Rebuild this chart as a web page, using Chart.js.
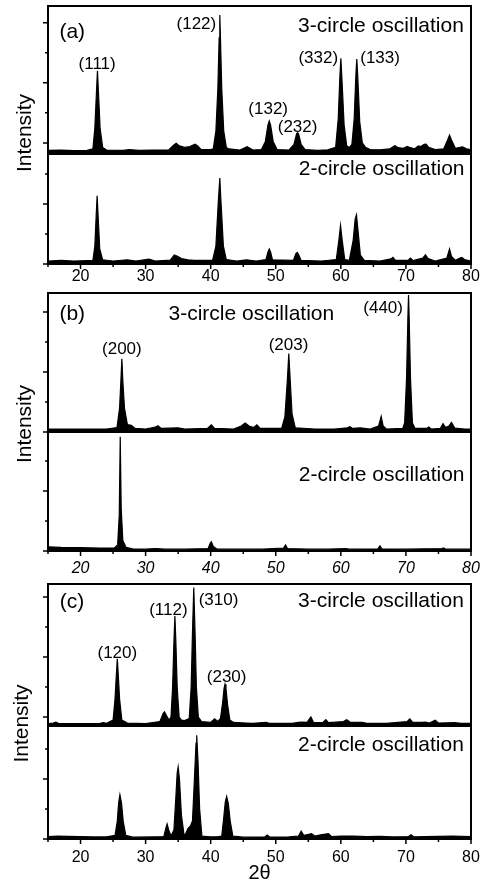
<!DOCTYPE html>
<html>
<head>
<meta charset="utf-8">
<script src="https://cdn.jsdelivr.net/npm/chart.js@4.4.1/dist/chart.umd.min.js"></script>
<style>
  body { margin: 0; background: #fff; width: 484px; height: 891px; position: relative; overflow: hidden; }
  canvas { position: absolute; left: 0; }
</style>
</head>
<body>
<canvas id="chartA" width="484" height="290" style="top:0px"></canvas>
<canvas id="chartB" width="484" height="290" style="top:290px"></canvas>
<canvas id="chartC" width="484" height="311" style="top:580px"></canvas>
<script>
// 2theta / intensity pairs (arbitrary units, one tick = 1)
// panel (a), 3-circle
const aTopX = [15, 17, 19, 21.0, 21.9, 22.2, 22.45, 22.6, 22.75, 23.0, 23.4, 24.0, 26.5, 27.5, 29.0, 31.0, 33.5, 34.3, 34.7, 35.2, 36.0, 36.8, 37.6, 38.0, 38.5, 40.0, 40.4, 40.8, 41.1, 41.3, 41.4, 41.5, 41.7, 42.0, 42.4, 42.8, 44.5, 45.6, 46.5, 47.8, 48.4, 48.8, 49.0, 49.2, 49.6, 50.2, 52.0, 52.8, 53.2, 53.35, 53.5, 53.9, 54.5, 56.5, 58.0, 59.2, 59.6, 59.85, 60.0, 60.15, 60.5, 60.9, 61.3, 61.7, 62.05, 62.3, 62.45, 62.6, 62.9, 63.3, 63.8, 64.5, 66.0, 67.5, 68.3, 68.8, 69.6, 70.2, 70.7, 71.3, 71.9, 72.3, 72.8, 73.1, 73.5, 74.5, 75.8, 76.4, 76.7, 77.0, 77.6, 78.3, 78.7, 79.3, 80];
const aTopY = [-0.25, -0.24, -0.26, -0.25, -0.2, 0.5, 1.7, 2.4, 1.7, 0.5, -0.15, -0.24, -0.25, -0.22, -0.25, -0.24, -0.24, -0.08, -0.01, -0.1, -0.15, -0.12, -0.04, -0.1, -0.22, -0.22, -0.2, 0.4, 1.8, 3.5, 4.26, 3.5, 1.8, 0.4, -0.15, -0.2, -0.24, -0.13, -0.24, -0.22, 0.05, 0.6, 0.73, 0.6, 0.05, -0.22, -0.24, -0.05, 0.3, 0.34, 0.3, -0.05, -0.22, -0.25, -0.23, -0.15, 0.8, 2.2, 2.82, 2.2, 0.6, -0.1, -0.15, -0.05, 0.8, 2.2, 2.79, 2.2, 0.7, 0.0, -0.15, -0.22, -0.23, -0.2, -0.09, -0.16, -0.18, -0.12, -0.16, -0.2, -0.1, -0.12, -0.05, -0.04, -0.15, -0.22, -0.2, 0.1, 0.26, 0.1, -0.18, -0.15, -0.13, -0.2, -0.22];
// panel (a), 2-circle
const aBotX = [15, 17, 19, 21.9, 22.2, 22.4, 22.55, 22.7, 22.95, 23.4, 25, 27.2, 28.5, 30.5, 31.5, 33.8, 34.4, 34.9, 35.5, 36.5, 37.5, 40.3, 40.8, 41.15, 41.4, 41.6, 41.95, 42.4, 44, 45.5, 47, 48.5, 48.8, 49.0, 49.2, 49.5, 52.7, 53.1, 53.3, 53.5, 53.9, 57, 59.3, 59.7, 59.95, 60.2, 60.6, 61.3, 61.9, 62.2, 62.4, 62.6, 63.0, 63.6, 66, 67.7, 68.0, 68.4, 70.3, 70.7, 71.1, 72.6, 73.0, 73.4, 74.5, 76.3, 76.7, 77.0, 77.6, 78.3, 78.6, 79.0, 80];
const aBotY = [0.1, 0.12, 0.1, 0.12, 0.6, 1.6, 2.28, 1.6, 0.5, 0.14, 0.1, 0.14, 0.1, 0.16, 0.1, 0.13, 0.3, 0.26, 0.18, 0.14, 0.12, 0.13, 0.6, 2.0, 2.87, 2.0, 0.6, 0.15, 0.1, 0.14, 0.1, 0.15, 0.4, 0.5, 0.4, 0.14, 0.12, 0.35, 0.39, 0.32, 0.12, 0.1, 0.15, 0.8, 1.29, 0.8, 0.15, 0.12, 0.8, 1.5, 1.64, 1.2, 0.3, 0.12, 0.1, 0.17, 0.22, 0.12, 0.12, 0.2, 0.11, 0.2, 0.31, 0.18, 0.1, 0.2, 0.5, 0.25, 0.12, 0.2, 0.22, 0.15, 0.1];

// panel (b), 3-circle
const bTopX = [15, 18, 21, 24, 25.6, 26.0, 26.2, 26.35, 26.5, 26.75, 27.2, 27.8, 28.4, 30, 31.5, 31.9, 32.4, 35, 36, 39.5, 40.1, 40.6, 43.5, 44.7, 45.3, 45.9, 46.6, 47.1, 47.6, 50.9, 51.4, 51.8, 52.0, 52.2, 52.5, 53.0, 56, 59, 61.0, 61.4, 61.8, 63.0, 64.5, 65.8, 66.2, 66.5, 67, 69.5, 69.8, 70.1, 70.3, 70.4, 70.5, 70.7, 71.0, 71.4, 73.2, 73.5, 73.9, 75.3, 75.7, 76.1, 76.6, 77.0, 77.5, 79, 80];
const bTopY = [0.1, 0.1, 0.1, 0.1, 0.15, 0.8, 1.7, 2.44, 1.7, 0.8, 0.25, 0.22, 0.12, 0.1, 0.16, 0.21, 0.12, 0.14, 0.1, 0.12, 0.24, 0.12, 0.1, 0.2, 0.3, 0.2, 0.15, 0.24, 0.12, 0.12, 0.5, 1.8, 2.61, 1.8, 0.6, 0.14, 0.1, 0.1, 0.14, 0.18, 0.12, 0.14, 0.1, 0.2, 0.52, 0.2, 0.1, 0.12, 0.3, 1.8, 3.8, 4.56, 3.8, 1.8, 0.3, 0.12, 0.12, 0.17, 0.1, 0.12, 0.28, 0.15, 0.2, 0.32, 0.13, 0.1, 0.1];
// panel (b), 2-circle
const bBotX = [15, 17, 20, 23, 25.2, 25.7, 25.95, 26.1, 26.25, 26.5, 27.0, 28, 30, 31.5, 33, 36, 39.6, 39.9, 40.1, 40.4, 41, 45, 48, 51.2, 51.5, 51.8, 55, 58, 60.8, 61.2, 65.7, 66.0, 66.3, 70, 75.5, 75.8, 76.1, 80];
const bBotY = [0.14, 0.12, 0.11, 0.1, 0.1, 0.2, 1.2, 3.81, 1.4, 0.35, 0.12, 0.07, 0.06, 0.08, 0.06, 0.06, 0.08, 0.25, 0.31, 0.15, 0.06, 0.06, 0.06, 0.1, 0.2, 0.08, 0.06, 0.06, 0.08, 0.06, 0.07, 0.17, 0.07, 0.06, 0.08, 0.1, 0.06, 0.06];

// panel (c), 3-circle
const cTopX = [15, 15.8, 16.2, 16.6, 18, 21, 23.0, 23.5, 24.0, 25.0, 25.3, 25.5, 25.65, 25.8, 26.0, 26.35, 27.2, 30, 32.2, 32.7, 32.9, 33.2, 33.6, 33.9, 34.15, 34.35, 34.5, 34.65, 34.85, 35.15, 35.5, 36.0, 36.7, 37.0, 37.2, 37.4, 37.6, 37.8, 38.1, 38.6, 40.0, 40.6, 41.1, 41.5, 41.85, 42.05, 42.2, 42.35, 42.6, 42.95, 43.5, 45.5, 46.5, 48.5, 49.0, 52.5, 53.5, 54.0, 54.8, 55.4, 55.8, 57.2, 57.7, 58.1, 60.4, 60.9, 61.4, 63.3, 64, 67, 70.2, 70.6, 71.0, 72.5, 73.0, 73.6, 74.5, 75.0, 77.5, 78.5, 80];
const cTopY = [-0.22, -0.2, -0.17, -0.21, -0.22, -0.22, -0.21, -0.19, -0.21, -0.1, 0.6, 1.4, 1.94, 1.4, 0.6, -0.1, -0.2, -0.22, -0.15, 0.12, 0.17, 0.05, -0.1, 0.0, 1.0, 2.5, 3.36, 2.5, 1.0, 0.0, -0.1, -0.12, -0.05, 1.0, 2.8, 4.31, 2.8, 1.0, 0.0, -0.15, -0.18, -0.06, -0.15, -0.05, 0.5, 0.95, 1.09, 0.95, 0.4, -0.1, -0.18, -0.2, -0.21, -0.18, -0.21, -0.21, -0.18, -0.17, -0.18, 0.0, -0.18, -0.19, -0.09, -0.19, -0.15, -0.09, -0.17, -0.18, -0.21, -0.21, -0.15, -0.06, -0.17, -0.18, -0.17, -0.2, -0.11, -0.2, -0.19, -0.21, -0.21];
// panel (c), 2-circle
const cBotX = [15, 16.5, 18, 20, 22, 24, 25.3, 25.65, 25.85, 26.05, 26.3, 26.55, 26.95, 28, 31, 32.8, 33.1, 33.3, 33.55, 33.9, 34.35, 34.65, 34.85, 35.0, 35.2, 35.5, 35.9, 36.1, 36.5, 36.9, 37.2, 37.5, 37.75, 37.85, 38.05, 38.3, 38.65, 40, 41.2, 41.7, 42.0, 42.25, 42.45, 42.7, 43.0, 43.4, 45, 48.3, 48.7, 49.1, 52, 53.5, 53.9, 54.3, 54.9, 55.5, 56, 56.9, 58.1, 58.6, 60, 62, 64, 66, 68, 70.4, 70.8, 71.2, 73, 75, 77.2, 80];
const cBotY = [0.08, 0.1, 0.09, 0.08, 0.07, 0.07, 0.12, 0.6, 1.2, 1.48, 1.2, 0.6, 0.12, 0.06, 0.07, 0.08, 0.35, 0.5, 0.3, 0.1, 0.3, 1.4, 2.2, 2.4, 2.0, 0.8, 0.15, 0.15, 0.35, 0.44, 0.6, 2.0, 3.2, 3.46, 2.6, 1.0, 0.1, 0.07, 0.08, 0.1, 0.7, 1.25, 1.42, 1.2, 0.6, 0.1, 0.06, 0.07, 0.13, 0.06, 0.07, 0.1, 0.26, 0.12, 0.15, 0.18, 0.1, 0.14, 0.18, 0.08, 0.1, 0.1, 0.08, 0.09, 0.07, 0.08, 0.14, 0.07, 0.08, 0.09, 0.1, 0.08];

// text on the panels: [text, 2theta, intensity, axis, align, font size]
const aLabels = [
  ['(a)', 16.75, 3.69, 'yTop', 'left', 21],
  ['3-circle oscillation', 78.9, 3.90, 'yTop', 'right', 21],
  ['(111)', 22.55, 2.63, 'yTop', 'center', 17],
  ['(122)', 37.8, 3.96, 'yTop', 'center', 17],
  ['(132)', 48.83, 1.12, 'yTop', 'center', 17],
  ['(232)', 53.35, 0.52, 'yTop', 'center', 17],
  ['(332)', 56.53, 2.82, 'yTop', 'center', 17],
  ['(133)', 66.03, 2.82, 'yTop', 'center', 17],
  ['2-circle oscillation', 79.0, 3.17, 'yBot', 'right', 21]
];
const bLabels = [
  ['(b)', 16.75, 3.92, 'yTop', 'left', 21],
  ['3-circle oscillation', 46.25, 3.92, 'yTop', 'center', 21],
  ['(200)', 26.35, 2.76, 'yTop', 'center', 17],
  ['(203)', 51.96, 2.89, 'yTop', 'center', 17],
  ['(440)', 66.5, 4.11, 'yTop', 'center', 17],
  ['2-circle oscillation', 79.0, 2.53, 'yBot', 'right', 21]
];
const cLabels = [
  ['(c)', 16.8, 3.83, 'yTop', 'left', 21],
  ['3-circle oscillation', 78.9, 3.87, 'yTop', 'right', 21],
  ['(120)', 25.65, 2.13, 'yTop', 'center', 17],
  ['(112)', 33.5, 3.56, 'yTop', 'center', 17],
  ['(310)', 41.2, 3.87, 'yTop', 'center', 17],
  ['(230)', 42.45, 1.33, 'yTop', 'center', 17],
  ['2-circle oscillation', 78.9, 3.14, 'yBot', 'right', 21]
];

const FONT = '"Liberation Sans", Arial, sans-serif';
Chart.defaults.font.family = FONT;
Chart.defaults.color = '#000';

function toPoints(xs, ys) {
    return xs.map((x, i) => ({ x: x, y: ys[i] }));
}

// frame, divider, tick marks and the text labels
const xrdDecor = {
    id: 'xrdDecor',
    afterDatasetsDraw(chart, args, opts) {
        const ctx = chart.ctx;
        const area = chart.chartArea;
        const xs = chart.scales.x, yTop = chart.scales.yTop, yBot = chart.scales.yBot;
        ctx.save();
        ctx.strokeStyle = '#000';
        ctx.lineWidth = 2;
        ctx.strokeRect(area.left, area.top, area.right - area.left, area.bottom - area.top);
        ctx.beginPath();
        ctx.moveTo(area.left, yTop.bottom);
        ctx.lineTo(area.right, yTop.bottom);
        ctx.stroke();

        ctx.lineWidth = 1.5;
        ctx.beginPath();
        xs.ticks.forEach(t => {
            const px = xs.getPixelForValue(t.value);
            const len = t.value % 10 === 0 ? 5 : 3;
            ctx.moveTo(px, area.bottom);
            ctx.lineTo(px, area.bottom + len);
        });
        [yTop, yBot].forEach(s => {
            s.ticks.forEach(t => {
                if (Math.abs(t.value - Math.round(t.value)) > 1e-6) return;
                const py = s.getPixelForValue(t.value);
                const len = Math.round(t.value) % 2 === 0 ? 5 : 3;
                ctx.moveTo(area.left, py);
                ctx.lineTo(area.left - len, py);
            });
        });
        ctx.stroke();

        ctx.fillStyle = '#000';
        ctx.textBaseline = 'middle';
        opts.labels.forEach(l => {
            ctx.font = l[5] + 'px ' + FONT;
            ctx.textAlign = l[4];
            ctx.fillText(l[0], xs.getPixelForValue(l[1]), chart.scales[l[3]].getPixelForValue(l[2]));
        });

        // y title spans both layers
        ctx.translate(opts.titleX, (area.top + area.bottom) / 2 + opts.titleDy);
        ctx.rotate(-Math.PI / 2);
        ctx.textAlign = 'center';
        ctx.font = '21px ' + FONT;
        ctx.fillText('Intensity', 0, 0);
        ctx.restore();
    }
};

function createPanel(canvasId, p) {
    const line = {
        borderColor: '#000',
        backgroundColor: '#000',
        borderWidth: 1.2,
        pointRadius: 0,
        tension: 0,
        fill: 'start'
    };
    return new Chart(document.getElementById(canvasId), {
        type: 'line',
        data: {
            datasets: [
                Object.assign({ data: toPoints(p.topX, p.topY), yAxisID: 'yTop' }, line),
                Object.assign({ data: toPoints(p.botX, p.botY), yAxisID: 'yBot' }, line)
            ]
        },
        options: {
            responsive: false,
            animation: false,
            events: [],
            layout: { padding: { top: p.padTop, right: 13, left: 0, bottom: 0 } },
            plugins: {
                legend: { display: false },
                tooltip: { enabled: false },
                xrdDecor: { labels: p.labels, titleX: p.titleX, titleDy: p.titleDy }
            },
            scales: {
                x: {
                    type: 'linear',
                    min: 15,
                    max: 80,
                    // tick marks are drawn by the plugin, tickLength only spaces the labels
                    grid: { display: false, drawTicks: true, tickLength: p.tickGap },
                    border: { display: false },
                    ticks: {
                        stepSize: 5,
                        autoSkip: false,
                        maxRotation: 0,
                        padding: 0,
                        font: { size: 16, style: p.tickStyle },
                        callback: v => (v % 10 === 0 ? v : '')
                    },
                    title: {
                        display: p.xTitle !== '',
                        text: p.xTitle,
                        font: { size: 20 },
                        padding: { top: 0, bottom: 6 }
                    },
                    afterFit: s => { s.height = p.xHeight; }
                },
                // the stack puts the first left axis at the bottom
                yBot: {
                    type: 'linear',
                    position: 'left',
                    stack: 'panel',
                    stackWeight: p.botH,
                    min: 0,
                    max: p.botMax,
                    grid: { display: false, drawTicks: false },
                    border: { display: false },
                    ticks: { display: false, stepSize: 1, includeBounds: false },
                    afterFit: s => { s.width = 48; }
                },
                yTop: {
                    type: 'linear',
                    position: 'left',
                    stack: 'panel',
                    stackWeight: p.topH,
                    min: p.topMin,
                    max: p.topMax,
                    grid: { display: false, drawTicks: false },
                    border: { display: false },
                    ticks: { display: false, stepSize: 1, includeBounds: false },
                    afterFit: s => { s.width = 48; }
                }
            }
        },
        plugins: [xrdDecor]
    });
}

const chartA = createPanel('chartA', {
    topX: aTopX, topY: aTopY, botX: aBotX, botY: aBotY, labels: aLabels,
    padTop: 6, topH: 148, botH: 110, topMin: -0.37, topMax: 4.56, botMax: 3.67,
    xHeight: 26, tickGap: 3, tickStyle: 'normal', xTitle: '', titleX: 25, titleDy: -2
});
const chartB = createPanel('chartB', {
    topX: bTopX, topY: bTopY, botX: bBotX, botY: bBotY, labels: bLabels,
    padTop: 3, topH: 139, botH: 119, topMin: 0, topMax: 4.63, botMax: 3.97,
    xHeight: 29, tickGap: 8, tickStyle: 'italic', xTitle: '', titleX: 25, titleDy: 2
});
const chartC = createPanel('chartC', {
    topX: cTopX, topY: cTopY, botX: cBotX, botY: cBotY, labels: cLabels,
    padTop: 4, topH: 142, botH: 113, topMin: -0.3, topMax: 4.43, botMax: 3.77,
    xHeight: 52, tickGap: 9, tickStyle: 'normal', xTitle: '2θ', titleX: 22, titleDy: 12
});
</script>
</body>
</html>
